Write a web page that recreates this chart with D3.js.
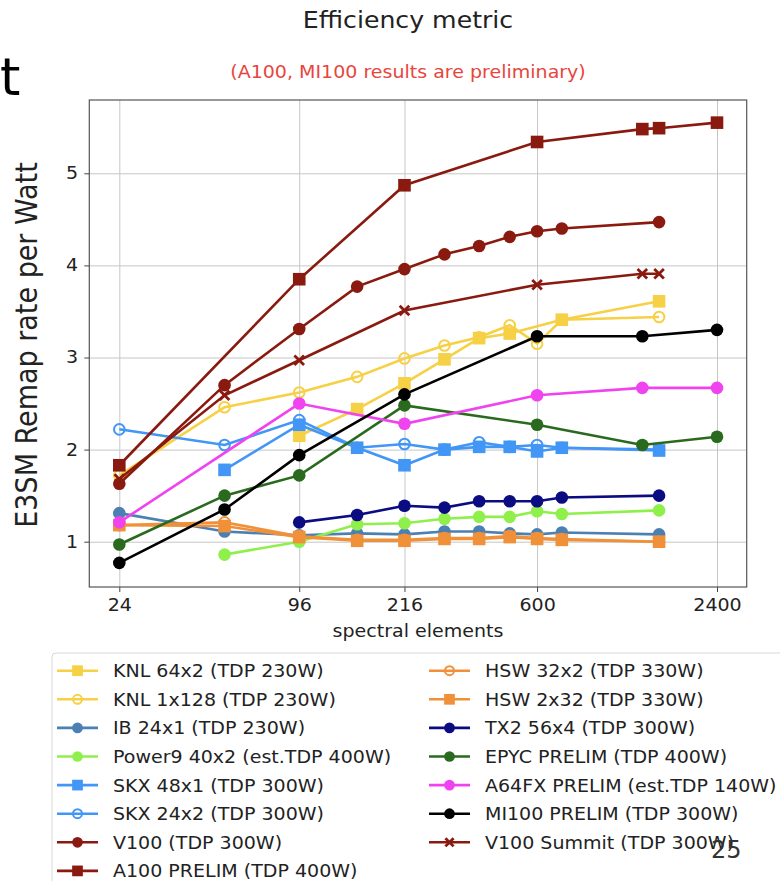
<!DOCTYPE html>
<html>
<head>
<meta charset="utf-8">
<script src="https://cdn.jsdelivr.net/npm/d3@7"></script>
<style>
  body { margin: 0; background: #fff; }
  text { font-family: "DejaVu Sans", sans-serif; }
</style>
</head>
<body>
<script>
// x positions (spectral elements)
const xSE = [24, 54, 96, 150, 216, 294, 384, 486, 600, 726, 1350, 1536, 2400]
const xTicks = [24, 96, 216, 600, 2400]
const yTicks = [1, 2, 3, 4, 5]

// series names, in legend order
const names = [
  "KNL 64x2 (TDP 230W)", "KNL 1x128 (TDP 230W)", "IB 24x1 (TDP 230W)",
  "Power9 40x2 (est.TDP 400W)", "SKX 48x1 (TDP 300W)", "SKX 24x2 (TDP 300W)",
  "V100 (TDP 300W)", "A100 PRELIM (TDP 400W)", "HSW 32x2 (TDP 330W)",
  "HSW 2x32 (TDP 330W)", "TX2 56x4 (TDP 300W)", "EPYC PRELIM (TDP 400W)",
  "A64FX PRELIM (est.TDP 140W)", "MI100 PRELIM (TDP 300W)", "V100 Summit (TDP 300W)"
]

// values per series, aligned to xSE (null = no run)
const knl64x2  = [null, null, 2.15, 2.44, 2.72, 2.98, 3.21, 3.26, null, 3.41, null, 3.61, null]
const knl1x128 = [1.72, 2.46, 2.62, 2.79, 2.99, 3.13, 3.22, 3.35, 3.15, 3.41, null, 3.44, null]
const ib24x1   = [1.31, 1.11, 1.07, 1.09, 1.08, 1.11, 1.11, 1.09, 1.08, 1.10, null, 1.08, null]
const power9   = [null, 0.86, 1.00, 1.19, 1.20, 1.25, 1.27, 1.27, 1.33, 1.30, null, 1.34, null]
const skx48x1  = [null, 1.78, 2.27, 2.02, 1.83, 2.00, 2.03, 2.03, 1.98, 2.02, null, 1.99, null]
const skx24x2  = [2.22, 2.05, 2.32, 2.02, 2.06, 2.00, 2.08, 2.03, 2.05, 2.02, null, 2.00, null]
const v100     = [1.63, 2.70, 3.31, 3.77, 3.96, 4.12, 4.21, 4.31, 4.37, 4.40, null, 4.47, null]
const a100     = [1.83, null, 3.85, null, 4.87, null, null, null, 5.34, null, 5.48, 5.49, 5.55]
const hsw32x2  = [1.18, 1.21, 1.06, 1.02, 1.02, 1.04, 1.04, 1.06, 1.04, 1.03, null, 1.00, null]
const hsw2x32  = [1.18, 1.17, 1.05, 1.01, 1.01, 1.03, 1.03, 1.05, 1.03, 1.02, null, 1.00, null]
const tx2      = [null, null, 1.21, 1.29, 1.39, 1.37, 1.44, 1.44, 1.44, 1.48, null, 1.50, null]
const epyc     = [0.97, 1.50, 1.72, null, 2.48, null, null, null, 2.27, null, 2.05, null, 2.14]
const a64fx    = [1.21, null, 2.50, null, 2.28, null, null, null, 2.59, null, 2.67, null, 2.67]
const mi100    = [0.77, 1.35, 1.94, null, 2.60, null, null, null, 3.23, null, 3.23, null, 3.30]
const summit   = [1.68, 2.59, 2.97, null, 3.51, null, null, null, 3.79, null, 3.91, 3.91, null]

const allValues = [knl64x2, knl1x128, ib24x1, power9, skx48x1, skx24x2, v100, a100,
  hsw32x2, hsw2x32, tx2, epyc, a64fx, mi100, summit]

// colour + marker for each series
const dred = "#8a1a0f"
const styles = [
  {c: "#f6d045", m: "square"}, {c: "#f6d045", m: "open"}, {c: "#4c80b2", m: "circle"},
  {c: "#8ff04c", m: "circle"}, {c: "#4296f5", m: "square"}, {c: "#4296f5", m: "open"},
  {c: dred, m: "circle"}, {c: dred, m: "square"}, {c: "#f0913a", m: "open"},
  {c: "#f0913a", m: "square"}, {c: "#0c0c82", m: "circle"}, {c: "#2a6a1f", m: "circle"},
  {c: "#f043f0", m: "circle"}, {c: "#000000", m: "circle"}, {c: dred, m: "x"}
]

const W = 780, H = 881
const pLeft = 89.3, pRight = 746.7, pTop = 100, pBottom = 587
// the slide picture is a bit wider than tall, text gets stretched sideways
const sx = 1.12

let svg = d3.select('body').append('svg')
  .attr('width', W)
  .attr('height', H)

const x = d3.scaleLog()
  .domain([24, 2400])
  .range([119.3, 717])

const y = d3.scaleLinear()
  .domain([1, 5])
  .range([541.7, 173.3])

// text with sideways stretch
function label(g, tx, ty, str, size, anchor, color) {
  return g.append("text")
    .attr("transform", `translate(${tx}, ${ty}) scale(${sx}, 1)`)
    .attr("text-anchor", anchor)
    .attr("font-size", size)
    .attr("fill", color)
    .text(str)
}

// grid
svg.append("g")
  .attr("transform", `translate(0, ${pBottom})`)
  .call(d3.axisBottom(x).tickValues(xTicks).tickSize(-(pBottom - pTop)).tickFormat(""))
  .call(g => g.select(".domain").remove())
  .selectAll("line").attr("stroke", "#c6c6c6").attr("stroke-width", 1)

svg.append("g")
  .attr("transform", `translate(${pLeft}, 0)`)
  .call(d3.axisLeft(y).tickValues(yTicks).tickSize(-(pRight - pLeft)).tickFormat(""))
  .call(g => g.select(".domain").remove())
  .selectAll("line").attr("stroke", "#c6c6c6").attr("stroke-width", 1)

// axes
let xAxis = svg.append("g")
  .attr("transform", `translate(0, ${pBottom})`)
  .call(d3.axisBottom(x).tickValues(xTicks).tickFormat(d3.format("d")).tickSize(5).tickPadding(7))
xAxis.select(".domain").remove()
xAxis.selectAll("line").attr("stroke", "#444")
xAxis.selectAll("text").attr("font-size", 17).attr("fill", "#222")
  .attr("font-family", "DejaVu Sans")
  .attr("transform", `scale(${sx}, 1)`)

let yAxis = svg.append("g")
  .attr("transform", `translate(${pLeft}, 0)`)
  .call(d3.axisLeft(y).tickValues(yTicks).tickFormat(d3.format("d")).tickSize(5).tickPadding(5))
yAxis.select(".domain").remove()
yAxis.selectAll("line").attr("stroke", "#444")
yAxis.selectAll("text").attr("font-size", 17).attr("fill", "#222")
  .attr("font-family", "DejaVu Sans")
  .attr("transform", `scale(${sx}, 1)`)

// frame
svg.append("rect")
  .attr("x", pLeft).attr("y", pTop)
  .attr("width", pRight - pLeft).attr("height", pBottom - pTop)
  .attr("fill", "none").attr("stroke", "#555").attr("stroke-width", 1.2)

function drawMarker(g, m, c, cx, cy, s) {
  if (m === "circle") {
    g.append("circle").attr("cx", cx).attr("cy", cy).attr("r", 6.3 * s).attr("fill", c)
  } else if (m === "open") {
    g.append("circle").attr("cx", cx).attr("cy", cy).attr("r", 5.3 * s)
      .attr("fill", "none").attr("stroke", c).attr("stroke-width", 2)
  } else if (m === "square") {
    g.append("rect").attr("x", cx - 6.3 * s).attr("y", cy - 6.3 * s)
      .attr("width", 12.6 * s).attr("height", 12.6 * s).attr("fill", c)
  } else if (m === "x") {
    const r = 4.8 * s
    g.append("path")
      .attr("d", `M${cx - r},${cy - r}L${cx + r},${cy + r}M${cx - r},${cy + r}L${cx + r},${cy - r}`)
      .attr("stroke", c).attr("stroke-width", 2.8)
  }
}

const line = d3.line()
  .x(d => x(d[0]))
  .y(d => y(d[1]))

let plot = svg.append("g")

allValues.forEach((vals, i) => {
  const pts = xSE.map((xv, j) => [xv, vals[j]]).filter(d => d[1] !== null)
  const st = styles[i]
  plot.append("path")
    .datum(pts)
    .attr("d", line)
    .attr("fill", "none")
    .attr("stroke", st.c)
    .attr("stroke-width", 2.6)
  pts.forEach(p => drawMarker(plot, st.m, st.c, x(p[0]), y(p[1]), 1))
})

// titles
label(svg, 408, 28, "Efficiency metric", 22.5, "middle", "#222")
label(svg, 408, 78, "(A100, MI100 results are preliminary)", 17, "middle", "#e8453c")
label(svg, 418, 637, "spectral elements", 17, "middle", "#222")

svg.append("text")
  .attr("transform", "translate(37, 345) rotate(-90) scale(1, " + sx + ")")
  .attr("text-anchor", "middle")
  .attr("font-size", 27).attr("fill", "#222")
  .attr("font-family", "Liberation Sans")
  .text("E3SM Remap rate per Watt")

// legend
let legend = svg.append("g")
legend.append("rect")
  .attr("x", 52).attr("y", 653)
  .attr("width", 760).attr("height", 260)
  .attr("rx", 4)
  .attr("fill", "#fff").attr("stroke", "#d8d8d8")

names.forEach((n, i) => {
  const col = i < 8 ? 0 : 1
  const row = i < 8 ? i : i - 8
  const lx = col === 0 ? 57 : 429
  const ly = 670.7 + row * 28.6
  const st = styles[i]
  legend.append("line")
    .attr("x1", lx).attr("x2", lx + 41)
    .attr("y1", ly).attr("y2", ly)
    .attr("stroke", st.c).attr("stroke-width", 2.6)
  drawMarker(legend, st.m, st.c, lx + 20.5, ly, 0.85)
  label(legend, lx + 56, ly + 6.5, n, 17, "start", "#222")
})

// slide leftovers
svg.append("text")
  .attr("x", 0).attr("y", 95)
  .attr("font-size", 52).attr("fill", "#000")
  .text("t")

svg.append("text")
  .attr("x", 711).attr("y", 858)
  .attr("font-size", 24).attr("fill", "#333")
  .text("25")
</script>
</body>
</html>
